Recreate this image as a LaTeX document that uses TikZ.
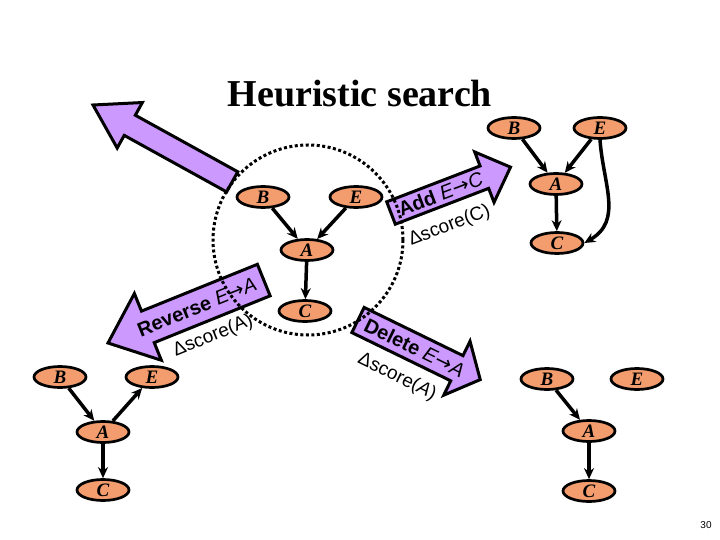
\documentclass[tikz,border=0pt]{standalone}
\usepackage{fontspec}
\setmainfont{Liberation Serif}
\newfontfamily\sansf{Liberation Sans}
\newfontfamily\arrf{DejaVu Sans}
\usetikzlibrary{arrows.meta,shapes.geometric}
\definecolor{salmon}{RGB}{243,157,110}
\definecolor{lav}{RGB}{204,153,255}
\newcommand{\myto}{{\arrf\upshape\mdseries →}}
\tikzset{
 bn/.style={ellipse, draw=black, line width=2.7pt, fill=salmon, minimum width=52pt, minimum height=21pt, inner sep=0pt, font=\fontsize{19}{19}\selectfont\bfseries\itshape},
 edge/.style={line width=3.5pt, -{Stealth[length=11pt,width=10pt]}},
 barrow/.style={draw=black, line width=3pt, fill=lav, line join=miter},
 atext/.style={font=\fontsize{20}{20}\selectfont\sansf, inner sep=0pt},
 dtext/.style={font=\fontsize{19}{19}\selectfont\sansf, inner sep=0pt},
 ring/.style={line width=3pt, dash pattern=on 3pt off 2.5pt}
}
\begin{document}
\begin{tikzpicture}[x=1pt,y=1pt]
\useasboundingbox (0,0) rectangle (720,-540);

% title and page number
\node[anchor=base, font=\fontsize{38}{38}\selectfont\bfseries, inner sep=0pt] (title) at (360,-107) {Heuristic search};
\node[font=\fontsize{10}{10}\selectfont\sansf, inner sep=0pt] (pnum) at (706,-525) {30};

% big arrow (up-left)
\begin{scope}[shift={(93,-105)}, rotate=-28.9]
 \draw[barrow] (0,0) -- (42,26) -- (42,11.5) -- (159,11.5) -- (159,-11.5) -- (42,-11.5) -- (42,-26) -- cycle;
\end{scope}

% Add arrow
\begin{scope}[shift={(391,-213)}, rotate=21]
 \draw[barrow] (0,-12) -- (100,-12) -- (100,-27) -- (128,0) -- (100,27) -- (100,12) -- (0,12) -- cycle;
 \node[atext, rotate=21] (addt) at (53,0) {\bfseries Add \mdseries\itshape E\myto C};
 \node[dtext, rotate=21] (addd) at (50,-33) {Δscore(C)};
\end{scope}

% Reverse arrow
\begin{scope}[shift={(108,-343)}, rotate=22]
 \draw[barrow] (0,0) -- (43,36) -- (43,17) -- (168,17) -- (168,-17) -- (43,-17) -- (43,-36) -- cycle;
 \node[atext, rotate=22] (revt) at (96,0) {\bfseries Reverse \mdseries\itshape E\myto A};
 \node[dtext, rotate=22] (revd) at (100,-33) {Δscore(A)};
\end{scope}

% Delete arrow
\begin{scope}[shift={(358,-320)}, rotate=-26]
 \draw[barrow] (0,-14) -- (110,-14) -- (110,-30) -- (136,0) -- (110,30) -- (110,14) -- (0,14) -- cycle;
 \node[atext, rotate=-26] (delt) at (63,0) {\bfseries Delete \mdseries\itshape E\myto A};
 \node[dtext, rotate=-26] (deld) at (60,-34) {Δscore(\itshape A\upshape)};
\end{scope}

% dotted ring
\draw[ring] (308,-240) circle[radius=95];

% central graph
\node[bn] (cB) at (263,-197) {B};
\node[bn] (cE) at (356,-197) {E};
\node[bn] (cA) at (307,-250) {A};
\node[bn] (cC) at (305,-311) {C};
\draw[edge] (cB) -- (cA);
\draw[edge] (cE) -- (cA);
\draw[edge] (cA) -- (cC);

% top-right graph
\node[bn] (tB) at (514,-128) {B};
\node[bn] (tE) at (600,-128) {E};
\node[bn] (tA) at (556,-184) {A};
\node[bn] (tC) at (557,-243) {C};
\draw[edge] (tB) -- (tA);
\draw[edge] (tE) -- (tA);
\draw[edge] (tA) -- (tC);
\draw[edge] (tE.south) to[out=-86,in=30,looseness=1.1] (tC.east);

% bottom-left graph
\node[bn] (lB) at (60,-377) {B};
\node[bn] (lE) at (152,-377) {E};
\node[bn] (lA) at (103,-432) {A};
\node[bn] (lC) at (103,-490) {C};
\draw[edge] (lB) -- (lA);
\draw[edge] (lA) -- (lE);
\draw[edge] (lA) -- (lC);

% bottom-right graph
\node[bn] (rB) at (547,-379) {B};
\node[bn] (rE) at (637,-379) {E};
\node[bn] (rA) at (589,-431) {A};
\node[bn] (rC) at (589,-491) {C};
\draw[edge] (rB) -- (rA);
\draw[edge] (rA) -- (rC);
\end{tikzpicture}
\end{document}
